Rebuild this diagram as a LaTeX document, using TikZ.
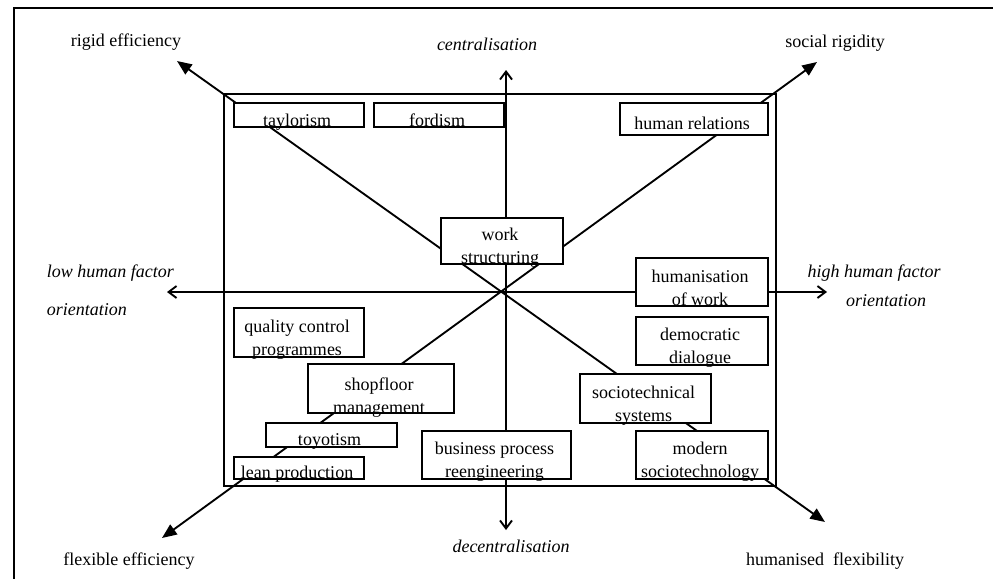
\documentclass[tikz,border=0pt]{standalone}
\usepackage{fontspec}
\setmainfont{Liberation Serif}
\usetikzlibrary{arrows.meta}

% white-filled box drawn over the axes, with the baseline of its last text line
% the given distance above the lower edge
\newcommand\itembox[7]{%
  \node[item, minimum width=#4*0.75pt, minimum height=#5*0.75pt] (#1) at (#2,#3) {};
  \node[itemtext, anchor=base] at ([xshift=-1.5pt, yshift=#6*0.75pt]#1.south) {#7};}

\begin{document}
\begin{tikzpicture}[x=0.75pt, y=-0.75pt, line width=1.4pt,
  item/.style={draw, fill=white, inner sep=0pt, line width=1.4pt},
  itemtext/.style={inner sep=0pt, align=center, font=\fontsize{13.5pt}{17.25pt}\selectfont},
  pole/.style={inner sep=0pt, font=\fontsize{13.5pt}{16pt}\selectfont},
  poleit/.style={inner sep=0pt, font=\fontsize{13.5pt}{16pt}\selectfont\itshape},
  axis/.style={line width=1.4pt, {Straight Barb[length=6pt,width=9pt]}-{Straight Barb[length=6pt,width=9pt]}},
  diag/.style={line width=1.4pt, {Triangle[length=11pt,width=9pt]}-{Triangle[length=11pt,width=9pt]}}]

\useasboundingbox (0,0) rectangle (993,579);

% outer frame (top and left edges)
\draw[line width=1.5pt] (993,8) -- (14,8) -- (14,579);

% inner field
\draw (224,94) rectangle (776,486);

% axis and diagonal end points
\coordinate (north) at (506,70);
\coordinate (south) at (506,530);
\coordinate (west) at (167,292);
\coordinate (east) at (827,292);
\coordinate (rigid) at (177,61);
\coordinate (hflex) at (825,522);
\coordinate (social) at (817,62);
\coordinate (fflex) at (162,538);

\draw[axis] (south) -- (north);
\draw[axis] (west) -- (east);
\draw[diag] (rigid) -- (hflex);
\draw[diag] (fflex) -- (social);

% concepts
\itembox{tay}{299}{115}{130}{24}{1.5}{taylorism}
\itembox{ford}{439}{115}{130}{24}{1.5}{fordism}
\itembox{hrel}{694}{119}{148}{32}{6}{human relations}
\itembox{work}{502}{241}{122}{46}{1}{work\\structuring}
\itembox{huma}{702}{282}{132}{48}{1}{humanisation\\of work}
\itembox{qual}{299}{332.5}{130}{49}{2}{quality control\\programmes}
\itembox{shop}{381}{388.5}{146}{49}{0.5}{shopfloor\\management}
\itembox{toy}{331.5}{435}{131}{24}{2}{toyotism}
\itembox{lean}{299}{468}{130}{22}{1}{lean production}
\itembox{bpr}{496.5}{455}{149}{48}{2}{business process\\reengineering}
\itembox{demo}{702}{341}{132}{48}{2}{democratic\\dialogue}
\itembox{stec}{645.5}{398.5}{131}{49}{2}{sociotechnical\\systems}
\itembox{mod}{702}{455}{132}{48}{2}{modern\\sociotechnology}

% pole labels
\node[pole, anchor=base] (lrigid) at (126,46) {rigid efficiency};
\node[pole, anchor=base] (lsocial) at (835,47) {social rigidity};
\node[pole, anchor=base] (lfflex) at (129,565) {flexible efficiency};
\node[pole, anchor=base] (lhflex) at (825,565) {humanised~~flexibility};
\node[poleit, anchor=base] (lnorth) at (487,50.5) {centralisation};
\node[poleit, anchor=base] (lsouth) at (511,552.5) {decentralisation};
\node[poleit, anchor=base west] (lwest1) at (46,277) {low human factor};
\node[poleit, anchor=base west] (lwest2) at (46,315) {orientation};
\node[poleit, anchor=base] (least1) at (874,277) {high human factor};
\node[poleit, anchor=base] (least2) at (886,306.5) {orientation};
\end{tikzpicture}
\end{document}
